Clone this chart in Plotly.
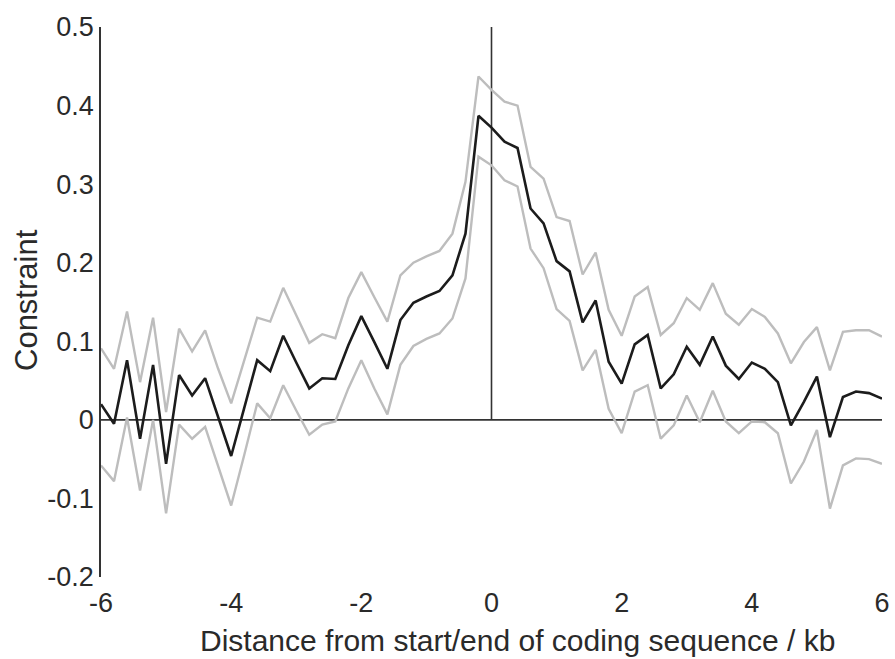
import plotly.graph_objects as go

distance_kb = [-6.0, -5.8, -5.6, -5.4, -5.2, -5.0, -4.8, -4.6, -4.4, -4.2,
               -4.0, -3.8, -3.6, -3.4, -3.2, -3.0, -2.8, -2.6, -2.4, -2.2,
               -2.0, -1.8, -1.6, -1.4, -1.2, -1.0, -0.8, -0.6, -0.4, -0.2,
               0.0, 0.2, 0.4, 0.6, 0.8, 1.0, 1.2, 1.4, 1.6, 1.8,
               2.0, 2.2, 2.4, 2.6, 2.8, 3.0, 3.2, 3.4, 3.6, 3.8,
               4.0, 4.2, 4.4, 4.6, 4.8, 5.0, 5.2, 5.4, 5.6, 5.8, 6.0]

constraint_mean = [0.020, -0.005, 0.076, -0.024, 0.070, -0.056, 0.057, 0.031, 0.053, 0.004,
                   -0.046, 0.015, 0.076, 0.062, 0.107, 0.073, 0.040, 0.053, 0.052, 0.095,
                   0.132, 0.099, 0.065, 0.127, 0.149, 0.157, 0.164, 0.184, 0.237, 0.387,
                   0.372, 0.354, 0.346, 0.269, 0.250, 0.202, 0.189, 0.124, 0.152, 0.074,
                   0.046, 0.096, 0.108, 0.040, 0.058, 0.093, 0.070, 0.106, 0.069, 0.052,
                   0.073, 0.065, 0.048, -0.007, 0.023, 0.055, -0.022, 0.029, 0.036, 0.034, 0.027]

constraint_upper = [0.091, 0.065, 0.138, 0.048, 0.130, 0.010, 0.116, 0.087, 0.114, 0.065,
                    0.021, 0.075, 0.130, 0.125, 0.168, 0.133, 0.098, 0.109, 0.104, 0.155,
                    0.188, 0.156, 0.125, 0.184, 0.200, 0.208, 0.215, 0.237, 0.303, 0.437,
                    0.420, 0.405, 0.400, 0.322, 0.307, 0.258, 0.253, 0.185, 0.213, 0.140,
                    0.107, 0.157, 0.169, 0.108, 0.123, 0.155, 0.140, 0.174, 0.135, 0.121,
                    0.141, 0.131, 0.110, 0.072, 0.099, 0.118, 0.063, 0.112, 0.114, 0.114, 0.106]

constraint_lower = [-0.058, -0.078, 0.003, -0.090, 0.000, -0.119, -0.006, -0.024, -0.009, -0.060,
                    -0.109, -0.045, 0.021, 0.002, 0.044, 0.012, -0.019, -0.006, -0.002, 0.040,
                    0.076, 0.040, 0.007, 0.070, 0.094, 0.103, 0.110, 0.129, 0.180, 0.335,
                    0.324, 0.305, 0.297, 0.218, 0.193, 0.141, 0.126, 0.063, 0.089, 0.014,
                    -0.017, 0.036, 0.044, -0.024, -0.007, 0.031, -0.003, 0.037, -0.002, -0.017,
                    -0.002, -0.003, -0.017, -0.081, -0.053, -0.013, -0.113, -0.058, -0.049, -0.050, -0.056]

x_ticks = [-6, -4, -2, 0, 2, 4, 6]
x_tick_text = ["-6", "-4", "-2", "0", "2", "4", "6"]
y_ticks = [-0.2, -0.1, 0, 0.1, 0.2, 0.3, 0.4, 0.5]
y_tick_text = ["-0.2", "-0.1", "0", "0.1", "0.2", "0.3", "0.4", "0.5"]

x_title = "Distance from start/end of coding sequence / kb"
y_title = "Constraint"

FONT = "Liberation Sans, Arial, sans-serif"
GREY = "#bdbdbd"
DARK = "#1c1c1c"
AXIS = "#333333"
TEXT = "#2a2a2a"

fig = go.Figure()
fig.add_trace(go.Scatter(x=distance_kb, y=constraint_upper, mode="lines",
                         line=dict(color=GREY, width=2.4), hoverinfo="skip"))
fig.add_trace(go.Scatter(x=distance_kb, y=constraint_lower, mode="lines",
                         line=dict(color=GREY, width=2.4), hoverinfo="skip"))

# reference lines
fig.add_shape(type="line", x0=-6, x1=6, y0=0, y1=0, xref="x", yref="y",
              line=dict(color=AXIS, width=1.6), layer="below")
fig.add_shape(type="line", x0=0, x1=0, y0=0, y1=0.5, xref="x", yref="y",
              line=dict(color=AXIS, width=1.6), layer="below")

fig.add_trace(go.Scatter(x=distance_kb, y=constraint_mean, mode="lines",
                         line=dict(color=DARK, width=2.6)))

# axis titles as annotations (positioned like the reference)
fig.add_annotation(text=x_title, xref="paper", yref="paper",
                   x=(517 - 101) / (882 - 101), y=-(640 - 577) / (577 - 27),
                   xanchor="center", yanchor="middle", showarrow=False,
                   font=dict(size=30, color=TEXT))
fig.add_annotation(text=y_title, xref="paper", yref="paper",
                   x=-(101 - 26) / (882 - 101), y=(577 - 300) / (577 - 27),
                   xanchor="center", yanchor="middle", textangle=-90, showarrow=False,
                   font=dict(size=31, color=TEXT))

fig.update_layout(
    width=895, height=659,
    margin=dict(l=101, r=13, t=27, b=82, autoexpand=False),
    paper_bgcolor="white", plot_bgcolor="white",
    showlegend=False,
    font=dict(family=FONT, color=TEXT),
    xaxis=dict(range=[-6, 6], tickvals=x_ticks, ticktext=x_tick_text,
               showgrid=False, zeroline=False, showline=False, automargin=False,
               ticks="", tickfont=dict(size=27), ticklabelstandoff=7),
    yaxis=dict(range=[-0.2, 0.5], tickvals=y_ticks, ticktext=y_tick_text,
               showgrid=False, zeroline=False, showline=True, automargin=False,
               linecolor=AXIS, linewidth=1.6,
               ticks="", tickfont=dict(size=27), ticklabelstandoff=0),
)

fig.write_html("out.html")
